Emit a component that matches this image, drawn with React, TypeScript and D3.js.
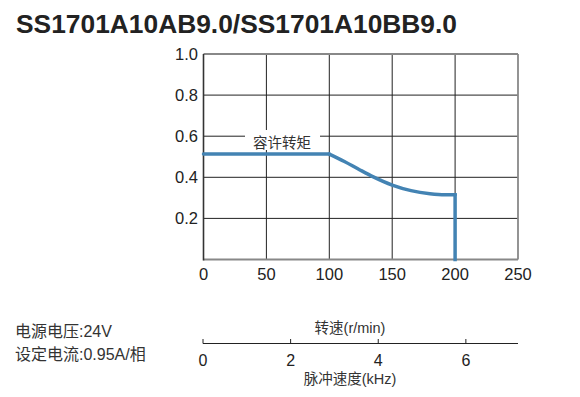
import React from "react";
import * as d3 from "d3";

const speedTicks = [0, 50, 100, 150, 200, 250];
const torqueTicks = [0.2, 0.4, 0.6, 0.8, 1.0];
const flatSpeed = [0, 100];
const flatTorque = [0.513, 0.513];
const curveSpeed = [100, 112, 124, 135, 150, 165, 180, 192, 200];
const curveTorque = [0.513, 0.477, 0.437, 0.402, 0.362, 0.335, 0.32, 0.315, 0.315];
const dropSpeed = [200, 200];
const dropTorque = [0.315, 0];
const pulseTicks = [0, 2, 4, 6];
const title = "SS1701A10AB9.0/SS1701A10BB9.0";
const curveLabel = "容许转矩";
const infoLines = ["电源电压:24V", "设定电流:0.95A/相"];
const speedUnit = "转速(r/min)";
const pulseUnit = "脉冲速度(kHz)";

const W = 580;
const H = 397;
const latin = "'Liberation Sans', Arial, Helvetica, sans-serif";
const cjk = "'Liberation Sans', 'Noto Sans CJK SC', sans-serif";

type P = [number, number];

export default function App() {
  const x = d3.scaleLinear().domain([0, 250]).range([203.5, 518]);
  const y = d3.scaleLinear().domain([0, 1]).range([259.5, 54]);
  const xp = d3.scaleLinear().domain([0, 7.19]).range([203, 518]);

  const zip = (a: number[], b: number[]): P[] => a.map((s, i) => [s, b[i]]);
  const lineLin = d3
    .line<P>()
    .x((d) => x(d[0]))
    .y((d) => y(d[1]));
  const lineCurve = d3
    .line<P>()
    .x((d) => x(d[0]))
    .y((d) => y(d[1]))
    .curve(d3.curveMonotoneX);

  const axisY = 343.5;
  const blue = "#4383b3";

  return (
    <svg
      width={W}
      height={H}
      style={{ position: "absolute", left: 0, top: 0, background: "#fff" }}
    >
      <rect x={0} y={0} width={W} height={H} fill="#fff" />
      <text
        x={16}
        y={33}
        fontFamily={latin}
        fontWeight="bold"
        fontSize={25}
        fill="#222"
        textLength={441}
        lengthAdjust="spacingAndGlyphs"
      >
        {title}
      </text>

      {/* interior grid */}
      {speedTicks.slice(1, -1).map((s) => (
        <line key={"gx" + s} x1={x(s)} x2={x(s)} y1={y(1)} y2={y(0)} stroke="#222" strokeWidth={1} />
      ))}
      {torqueTicks.slice(0, -1).map((t) => (
        <line key={"gy" + t} x1={x(0)} x2={x(250)} y1={y(t)} y2={y(t)} stroke="#222" strokeWidth={1} />
      ))}
      {/* frame */}
      <line x1={x(0)} x2={x(250)} y1={y(1)} y2={y(1)} stroke="#888" strokeWidth={1.8} />
      <line x1={x(250)} x2={x(250)} y1={y(1)} y2={y(0)} stroke="#888" strokeWidth={1.8} />
      <line x1={x(0)} x2={x(250)} y1={y(0)} y2={y(0)} stroke="#888" strokeWidth={1.8} />
      <line x1={x(0)} x2={x(0)} y1={y(1)} y2={y(0) + 1} stroke="#333" strokeWidth={1.6} />

      {/* label background */}
      <rect x={245} y={130} width={75} height={20} fill="#fff" />
      <text x={282} y={148} textAnchor="middle" fontFamily={cjk} fontSize={14.5} fill="#333">
        {curveLabel}
      </text>

      {/* curve */}
      <path d={lineLin(zip(flatSpeed, flatTorque)) || ""} fill="none" stroke={blue} strokeWidth={3.5} strokeLinecap="round" />
      <path d={lineCurve(zip(curveSpeed, curveTorque)) || ""} fill="none" stroke={blue} strokeWidth={3.5} strokeLinecap="round" />
      <path d={lineLin(zip(dropSpeed, dropTorque)) || ""} fill="none" stroke={blue} strokeWidth={3.5} strokeLinecap="square" />

      {/* y tick labels */}
      {torqueTicks.map((t) => (
        <text key={"ty" + t} x={198} y={y(t) + 6} textAnchor="end" fontFamily={latin} fontSize={16.5} fill="#222">
          {t.toFixed(1)}
        </text>
      ))}
      {/* x tick labels */}
      {speedTicks.map((s) => (
        <text key={"tx" + s} x={x(s)} y={280} textAnchor="middle" fontFamily={latin} fontSize={16.5} fill="#222">
          {s}
        </text>
      ))}

      {/* info */}
      {infoLines.map((l, i) => (
        <text key={"info" + i} x={15} y={337 + i * 23} fontFamily={cjk} fontSize={16} fill="#333">
          {l}
        </text>
      ))}

      {/* pulse axis */}
      <text x={350} y={333} textAnchor="middle" fontFamily={cjk} fontSize={14.5} fill="#333">
        {speedUnit}
      </text>
      <line x1={xp(0)} x2={xp(7.19)} y1={axisY} y2={axisY} stroke="#222" strokeWidth={1.2} />
      {pulseTicks.map((p) => (
        <g key={"p" + p}>
          <line x1={xp(p)} x2={xp(p)} y1={axisY} y2={axisY - 4.5} stroke="#222" strokeWidth={1} />
          <text x={xp(p)} y={366} textAnchor="middle" fontFamily={latin} fontSize={16} fill="#222">
            {p}
          </text>
        </g>
      ))}
      <text x={350} y={384} textAnchor="middle" fontFamily={cjk} fontSize={14.5} fill="#333">
        {pulseUnit}
      </text>
    </svg>
  );
}
